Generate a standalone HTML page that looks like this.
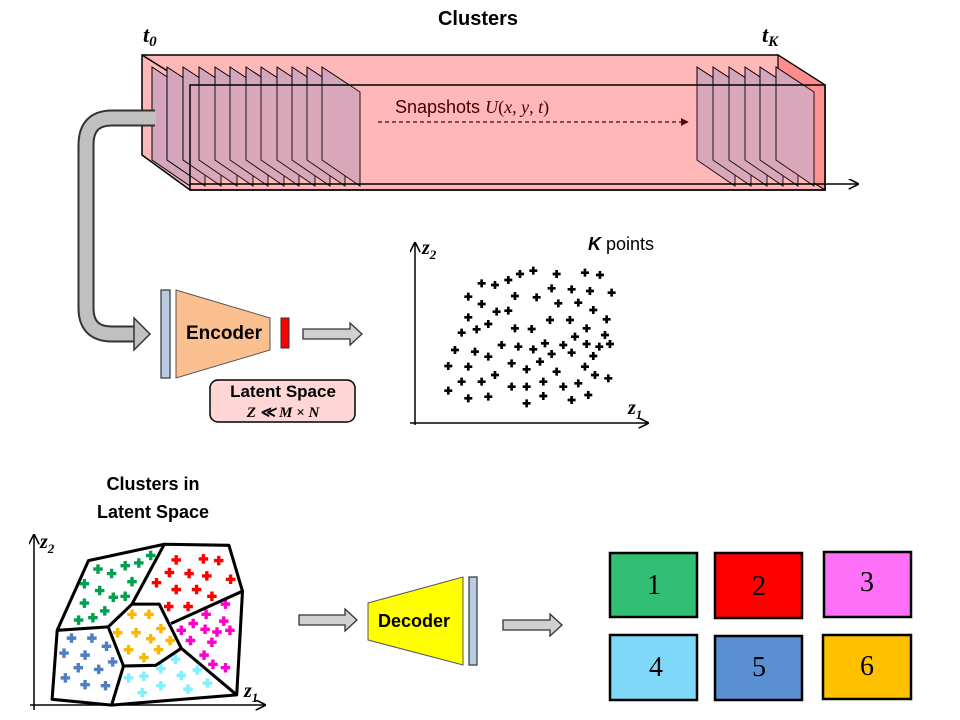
<!DOCTYPE html>
<html><head><meta charset="utf-8"><style>
html,body{margin:0;padding:0;background:#fff;}
svg{display:block;font-family:"Liberation Sans",sans-serif;}
</style></head><body>
<svg width="960" height="720" viewBox="0 0 960 720" xmlns="http://www.w3.org/2000/svg">
<defs>
<marker id="ah" viewBox="0 0 10 10" refX="9" refY="5" markerWidth="7" markerHeight="7" orient="auto"><path d="M0,0L10,5L0,10" fill="none" stroke="#000" stroke-width="1.5"/></marker>
<marker id="ahd" viewBox="0 0 10 10" refX="9" refY="5" markerWidth="6" markerHeight="6" orient="auto"><path d="M0,0L10,5L0,10z" fill="#5a0000"/></marker>
<path id="p" d="M-12 0H12M0-12V12" stroke-width="8"/>
<path id="q" d="M-14 0H14M0-14V14" stroke-width="10"/>
</defs>

<!-- Box -->
<polygon points="142,55 778,55 825,85 825,190 190,190 142,155" fill="#ffb8b8" stroke="#000" stroke-width="1.5"/>
<polygon points="778,55 825,85 825,190 778,160" fill="#ff8c8c" stroke="#000" stroke-width="1.2"/>
<line x1="142" y1="55" x2="190" y2="85" stroke="#000" stroke-width="1.5"/>
<g fill="#d4a6bb" stroke="#000" stroke-width="1">
<polygon points="152,67 190,92 190,186 152,160"/>
<polygon points="167,67 205,92 205,186 167,160"/>
<polygon points="183,67 221,92 221,186 183,160"/>
<polygon points="199,67 237,92 237,186 199,160"/>
<polygon points="215,67 253,92 253,186 215,160"/>
<polygon points="230,67 268,92 268,186 230,160"/>
<polygon points="246,67 284,92 284,186 246,160"/>
<polygon points="261,67 299,92 299,186 261,160"/>
<polygon points="277,67 315,92 315,186 277,160"/>
<polygon points="292,67 330,92 330,186 292,160"/>
<polygon points="307,67 345,92 345,186 307,160"/>
<polygon points="322,67 360,92 360,186 322,160"/>
<polygon points="697,67 735,92 735,186 697,160"/>
<polygon points="713,67 751,92 751,186 713,160"/>
<polygon points="729,67 767,92 767,186 729,160"/>
<polygon points="745,67 783,92 783,186 745,160"/>
<polygon points="760,67 798,92 798,186 760,160"/>
<polygon points="776,67 814,92 814,186 776,160"/>
</g>
<rect x="190" y="85" width="635" height="105" fill="#ffb8b8" fill-opacity="0.12" stroke="#000" stroke-width="1.5"/>
<line x1="190" y1="184" x2="858" y2="184" stroke="#000" stroke-width="1.5" marker-end="url(#ah)"/>
<line x1="378" y1="122" x2="688" y2="122" stroke="#5a0000" stroke-width="1.3" stroke-dasharray="4,3" marker-end="url(#ahd)"/>
<text x="395" y="113" font-size="18" fill="#400">Snapshots <tspan font-family="Liberation Serif" font-style="italic">U</tspan><tspan font-family="Liberation Serif">(<tspan font-style="italic">x</tspan>, <tspan font-style="italic">y</tspan>, <tspan font-style="italic">t</tspan>)</tspan></text>
<text x="478" y="25" font-size="20" font-weight="bold" text-anchor="middle">Clusters</text>
<text x="143" y="42" font-size="22" font-weight="bold" font-style="italic" font-family="Liberation Serif">t<tspan font-size="15" dy="4">0</tspan></text>
<text x="762" y="42" font-size="22" font-weight="bold" font-style="italic" font-family="Liberation Serif">t<tspan font-size="15" dy="4">K</tspan></text>

<!-- pipe -->
<path d="M155,118 H112 Q86,118 86,145 V308 Q86,334 112,334 H136" fill="none" stroke="#333" stroke-width="17"/>
<path d="M156,118 H112 Q86,118 86,145 V308 Q86,334 112,334 H138" fill="none" stroke="#c0c0c0" stroke-width="13"/>
<polygon points="134,318 150,334 134,350" fill="#c0c0c0" stroke="#333" stroke-width="1.5"/>

<!-- Encoder -->
<rect x="161" y="290" width="9" height="88" fill="#b8cce4" stroke="#333" stroke-width="1.2"/>
<polygon points="176,290 270,318 270,350 176,378" fill="#fac090" stroke="#555" stroke-width="1"/>
<text x="224" y="339" font-size="19" font-weight="bold" text-anchor="middle">Encoder</text>
<rect x="281" y="318" width="8" height="30" fill="#f00" stroke="#333" stroke-width="1"/>
<polygon points="303,329 350,329 350,323 362,334 350,345 350,339 303,339" fill="#d0d0d0" stroke="#333" stroke-width="1.3"/>
<rect x="210" y="380" width="145" height="42" rx="8" fill="#ffd6d6" stroke="#000" stroke-width="1.5"/>
<text x="283" y="397" font-size="17" font-weight="bold" text-anchor="middle">Latent Space</text>
<text x="283" y="417" font-size="15" font-weight="bold" font-style="italic" font-family="Liberation Serif" text-anchor="middle">Z ≪ M × N</text>

<!-- scatter -->
<line x1="415" y1="425" x2="415" y2="243" stroke="#000" stroke-width="1.5" marker-end="url(#ah)"/>
<line x1="410" y1="423" x2="648" y2="423" stroke="#000" stroke-width="1.5" marker-end="url(#ah)"/>
<text x="422" y="254" font-size="20" font-weight="bold" font-family="Liberation Serif" font-style="italic">z<tspan font-size="13" dy="5">2</tspan></text>
<text x="628" y="414" font-size="20" font-weight="bold" font-family="Liberation Serif" font-style="italic">z<tspan font-size="13" dy="5">1</tspan></text>
<text x="588" y="250" font-size="18"><tspan font-weight="bold" font-style="italic">K</tspan> points</text>
<g transform="translate(140,230) scale(0.3333)" stroke="#000">
<use href="#p" x="1180" y="122"/><use href="#p" x="1140" y="132"/><use href="#p" x="1105" y="150"/><use href="#p" x="1065" y="165"/><use href="#p" x="1025" y="160"/><use href="#p" x="1250" y="132"/><use href="#p" x="1335" y="128"/><use href="#p" x="1380" y="135"/><use href="#p" x="985" y="200"/><use href="#p" x="1125" y="198"/><use href="#p" x="1190" y="202"/><use href="#p" x="1235" y="175"/><use href="#p" x="1295" y="178"/><use href="#p" x="1350" y="183"/><use href="#p" x="1415" y="188"/><use href="#p" x="1025" y="222"/><use href="#p" x="1070" y="245"/><use href="#p" x="1105" y="242"/><use href="#p" x="1255" y="220"/><use href="#p" x="1315" y="218"/><use href="#p" x="1360" y="240"/><use href="#p" x="985" y="262"/><use href="#p" x="1045" y="282"/><use href="#p" x="1010" y="298"/><use href="#p" x="965" y="308"/><use href="#p" x="1125" y="295"/><use href="#p" x="1175" y="297"/><use href="#p" x="1230" y="270"/><use href="#p" x="1290" y="270"/><use href="#p" x="1340" y="295"/><use href="#p" x="1400" y="268"/><use href="#p" x="1395" y="315"/><use href="#p" x="1085" y="345"/><use href="#p" x="1135" y="350"/><use href="#p" x="1180" y="358"/><use href="#p" x="1215" y="340"/><use href="#p" x="1270" y="345"/><use href="#p" x="1305" y="320"/><use href="#p" x="1340" y="342"/><use href="#p" x="1378" y="350"/><use href="#p" x="1410" y="342"/><use href="#p" x="945" y="360"/><use href="#p" x="1005" y="365"/><use href="#p" x="1045" y="380"/><use href="#p" x="1295" y="368"/><use href="#p" x="1235" y="372"/><use href="#p" x="1360" y="378"/><use href="#p" x="925" y="408"/><use href="#p" x="985" y="410"/><use href="#p" x="1115" y="400"/><use href="#p" x="1160" y="418"/><use href="#p" x="1200" y="395"/><use href="#p" x="1250" y="425"/><use href="#p" x="1335" y="410"/><use href="#p" x="1365" y="435"/><use href="#p" x="1405" y="445"/><use href="#p" x="965" y="455"/><use href="#p" x="1025" y="455"/><use href="#p" x="1065" y="435"/><use href="#p" x="1115" y="470"/><use href="#p" x="1160" y="470"/><use href="#p" x="1210" y="455"/><use href="#p" x="1270" y="470"/><use href="#p" x="1315" y="460"/><use href="#p" x="925" y="482"/><use href="#p" x="985" y="505"/><use href="#p" x="1045" y="500"/><use href="#p" x="1160" y="520"/><use href="#p" x="1210" y="498"/><use href="#p" x="1295" y="510"/><use href="#p" x="1345" y="495"/>
</g>

<!-- Clusters in latent space -->
<text x="153" y="490" font-size="18" font-weight="bold" text-anchor="middle">Clusters in</text>
<text x="153" y="518" font-size="18" font-weight="bold" text-anchor="middle">Latent Space</text>
<line x1="34" y1="710" x2="34" y2="535" stroke="#000" stroke-width="1.5" marker-end="url(#ah)"/>
<line x1="30" y1="705" x2="265" y2="705" stroke="#000" stroke-width="1.5" marker-end="url(#ah)"/>
<text x="40" y="548" font-size="20" font-weight="bold" font-family="Liberation Serif" font-style="italic">z<tspan font-size="13" dy="5">2</tspan></text>
<text x="244" y="697" font-size="20" font-weight="bold" font-family="Liberation Serif" font-style="italic">z<tspan font-size="13" dy="5">1</tspan></text>
<g transform="translate(30,530) scale(0.34)">
<g stroke="#00a050"><use href="#q" x="355" y="75"/><use href="#q" x="320" y="97"/><use href="#q" x="280" y="105"/><use href="#q" x="200" y="115"/><use href="#q" x="240" y="128"/><use href="#q" x="160" y="158"/><use href="#q" x="205" y="178"/><use href="#q" x="300" y="152"/><use href="#q" x="245" y="198"/><use href="#q" x="280" y="195"/><use href="#q" x="160" y="215"/><use href="#q" x="220" y="238"/><use href="#q" x="185" y="258"/><use href="#q" x="143" y="265"/></g>
<g stroke="#f00"><use href="#q" x="430" y="88"/><use href="#q" x="510" y="85"/><use href="#q" x="555" y="90"/><use href="#q" x="410" y="125"/><use href="#q" x="468" y="128"/><use href="#q" x="520" y="135"/><use href="#q" x="590" y="145"/><use href="#q" x="372" y="155"/><use href="#q" x="430" y="175"/><use href="#q" x="490" y="175"/><use href="#q" x="535" y="195"/><use href="#q" x="408" y="225"/><use href="#q" x="465" y="225"/></g>
<g stroke="#f0c"><use href="#q" x="575" y="218"/><use href="#q" x="518" y="248"/><use href="#q" x="570" y="268"/><use href="#q" x="480" y="275"/><use href="#q" x="445" y="295"/><use href="#q" x="515" y="292"/><use href="#q" x="550" y="300"/><use href="#q" x="588" y="295"/><use href="#q" x="472" y="325"/><use href="#q" x="535" y="330"/><use href="#q" x="512" y="368"/><use href="#q" x="538" y="395"/><use href="#q" x="575" y="405"/></g>
<g stroke="#fbb800"><use href="#q" x="300" y="248"/><use href="#q" x="350" y="248"/><use href="#q" x="385" y="290"/><use href="#q" x="258" y="302"/><use href="#q" x="312" y="302"/><use href="#q" x="355" y="320"/><use href="#q" x="412" y="325"/><use href="#q" x="290" y="352"/><use href="#q" x="378" y="352"/><use href="#q" x="335" y="375"/></g>
<g stroke="#4f7fc0"><use href="#q" x="122" y="318"/><use href="#q" x="182" y="318"/><use href="#q" x="225" y="342"/><use href="#q" x="100" y="362"/><use href="#q" x="162" y="368"/><use href="#q" x="243" y="388"/><use href="#q" x="142" y="405"/><use href="#q" x="202" y="410"/><use href="#q" x="104" y="435"/><use href="#q" x="162" y="455"/><use href="#q" x="222" y="458"/></g>
<g stroke="#80f0ff"><use href="#q" x="428" y="380"/><use href="#q" x="385" y="408"/><use href="#q" x="290" y="435"/><use href="#q" x="335" y="430"/><use href="#q" x="445" y="428"/><use href="#q" x="492" y="412"/><use href="#q" x="522" y="450"/><use href="#q" x="330" y="478"/><use href="#q" x="385" y="458"/><use href="#q" x="465" y="468"/></g>
<g fill="none" stroke="#000" stroke-width="9" stroke-linejoin="round">
<polygon points="172,90 395,42 585,45 625,180 608,485 240,515 65,498 80,295"/>
<polyline points="395,42 300,218 380,218 445,348 370,398 275,400 230,285 300,218"/>
<polyline points="80,295 230,285"/>
<polyline points="275,400 240,515"/>
<polyline points="445,348 608,485"/>
<polyline points="415,275 625,180"/>
</g>
</g>

<!-- Decoder -->
<polygon points="299,615 345,615 345,609 357,620 345,631 345,625 299,625" fill="#d0d0d0" stroke="#333" stroke-width="1.3"/>
<polygon points="368,603 463,577 463,665 368,640" fill="#ffff00" stroke="#555" stroke-width="1"/>
<text x="414" y="627" font-size="18" font-weight="bold" text-anchor="middle">Decoder</text>
<rect x="469" y="577" width="8" height="88" fill="#b8cce4" stroke="#333" stroke-width="1.2"/>
<polygon points="503,620 550,620 550,614 562,625 550,636 550,630 503,630" fill="#d0d0d0" stroke="#333" stroke-width="1.3"/>

<!-- legend -->
<g stroke="#000" stroke-width="2.5">
<rect x="610" y="553" width="87" height="64" fill="#33bf73"/>
<rect x="715" y="553" width="87" height="65" fill="#ff0000"/>
<rect x="824" y="552" width="87" height="65" fill="#ff70f8"/>
<rect x="610" y="635" width="87" height="65" fill="#80d8f8"/>
<rect x="715" y="636" width="87" height="64" fill="#5a8fd4"/>
<rect x="823" y="635" width="88" height="64" fill="#ffc000"/>
</g>
<g font-family="Liberation Serif" font-size="28" text-anchor="middle">
<text x="654" y="594">1</text><text x="759" y="595">2</text><text x="867" y="591">3</text>
<text x="656" y="676">4</text><text x="759" y="676">5</text><text x="867" y="675">6</text>
</g>
</svg>
</body></html>
